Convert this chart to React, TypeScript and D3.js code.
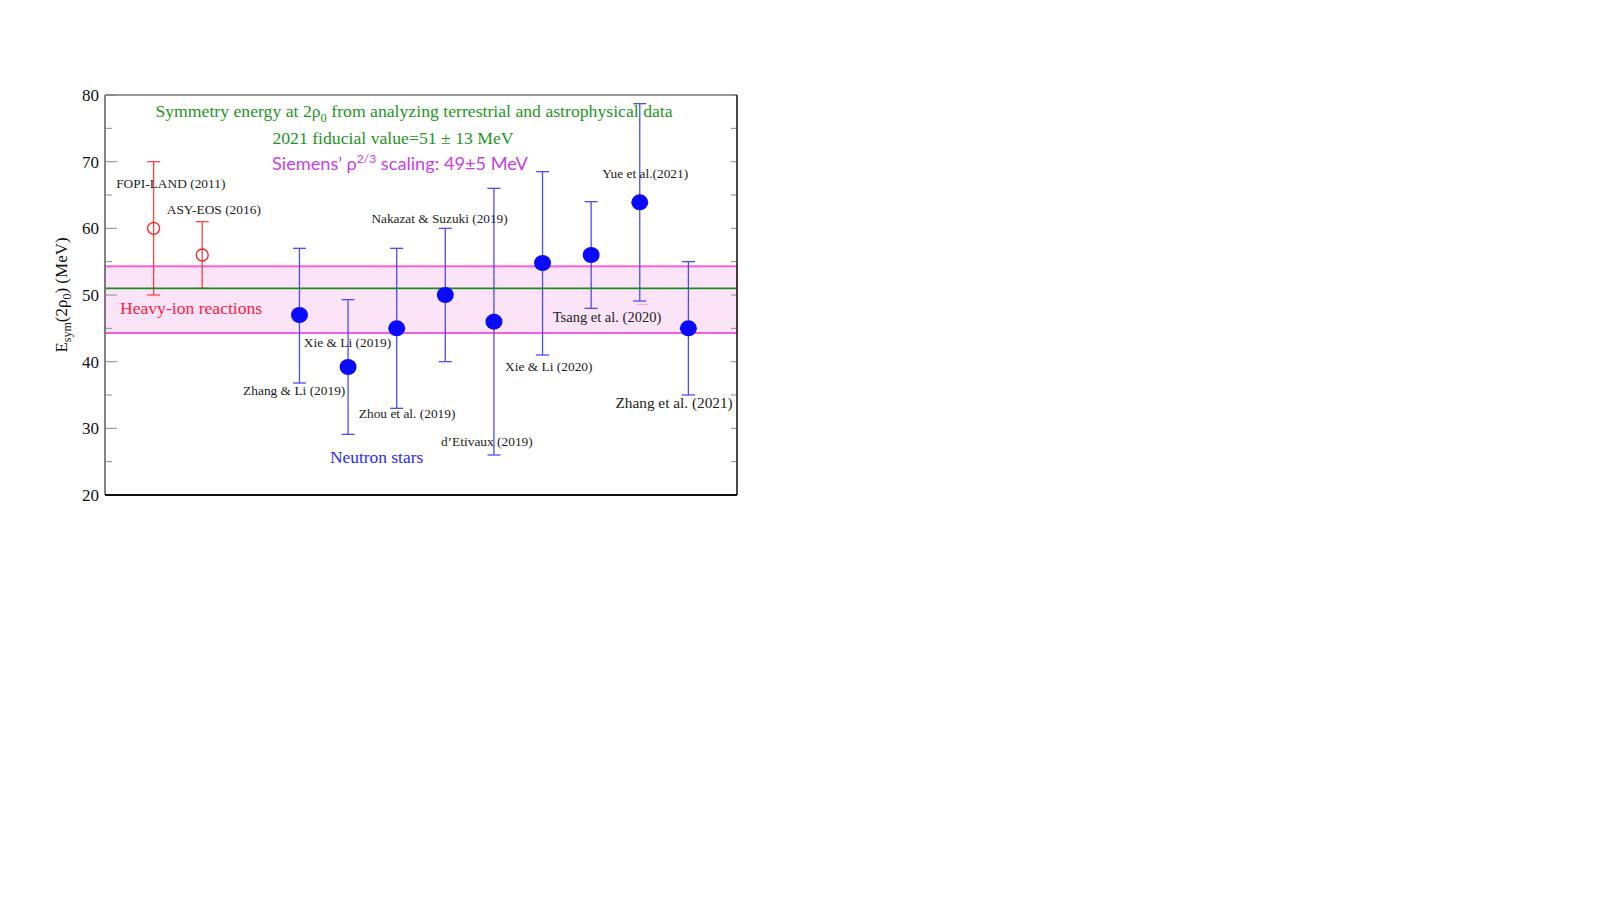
import * as d3 from 'd3';

// data
const names = [
  'FOPI-LAND (2011)',
  'ASY-EOS (2016)',
  'Zhang & Li (2019)',
  'Xie & Li (2019)',
  'Zhou et al. (2019)',
  'Nakazat & Suzuki (2019)',
  "d’Etivaux (2019)",
  'Xie & Li (2020)',
  'Tsang et al. (2020)',
  'Yue et al.(2021)',
  'Zhang et al. (2021)',
];
const slots = [1, 2, 4, 5, 6, 7, 8, 9, 10, 11, 12];
const centers = [60, 56, 47, 39.2, 45, 50, 46, 54.8, 56, 63.9, 45];
const uppers = [70, 61, 57, 49.3, 57, 60, 66, 68.5, 64, 78.7, 55];
const lowers = [50, 51, 36.8, 29.1, 33, 40, 26, 41, 48, 49.1, 35];
const groups = ['hic', 'hic', 'ns', 'ns', 'ns', 'ns', 'ns', 'ns', 'ns', 'ns', 'ns'];

const fiducial = 51;
const bandLow = 44.3;
const bandHigh = 54.3;
const yTicks = [20, 30, 40, 50, 60, 70, 80];
const yMinor = [25, 35, 45, 55, 65, 75];

// label anchors, in data units
const labelX = [0.23, 1.27, 2.84, 4.09, 5.22, 5.48, 6.91, 8.23, 9.21, 10.23, 10.5];
const labelY = [66.0, 62.15, 35.0, 42.15, 31.5, 60.85, 27.4, 38.6, 45.9, 67.5, 33.0];
const labelSize = [13.4, 13.4, 13.4, 13.4, 13.4, 13.3, 13.4, 13.4, 14.5, 13.4, 15.3];

const serif = '"Liberation Serif", "DejaVu Serif", serif';

export default function App() {
  const left = 105;
  const right = 737;
  const top = 95;
  const bottom = 495;

  const x = d3.scaleLinear().domain([0, 13]).range([left, right]);
  const y = d3.scaleLinear().domain([20, 80]).range([bottom, top]);

  return (
    <svg
      width={1600}
      height={900}
      style={{ position: 'absolute', left: 0, top: 0, background: '#fff' }}
    >
      {/* band of Siemens scaling */}
      <rect
        x={left}
        y={y(bandHigh)}
        width={right - left}
        height={y(bandLow) - y(bandHigh)}
        fill='#fce4f8'
        stroke='#f060e0'
        strokeWidth={2}
      />
      <line x1={x(10.93)} x2={x(11.17)} y1={y(48.6)} y2={y(48.6)} stroke='#f0a0e8' strokeWidth={1} />

      {/* ticks */}
      {yTicks.map((t) => (
        <g key={'t' + t}>
          <line x1={left} x2={left + 12} y1={y(t)} y2={y(t)} stroke='#888' />
          <line x1={right - 6} x2={right} y1={y(t)} y2={y(t)} stroke='#888' />
          <text
            x={left - 6}
            y={y(t) + 6}
            textAnchor='end'
            fontFamily={serif}
            fontSize={17}
            fill='#111'
          >
            {t}
          </text>
        </g>
      ))}
      {yMinor.map((t) => (
        <g key={'m' + t}>
          <line x1={left} x2={left + 7} y1={y(t)} y2={y(t)} stroke='#888' />
          <line x1={right - 6} x2={right} y1={y(t)} y2={y(t)} stroke='#888' />
        </g>
      ))}

      {/* error bars */}
      {slots.map((s, i) => {
        const col = groups[i] === 'hic' ? '#ff3030' : '#3a3aff';
        return (
          <g key={'e' + i} stroke={col} strokeWidth={1.3} opacity={0.9}>
            <line x1={x(s)} x2={x(s)} y1={y(uppers[i])} y2={y(lowers[i])} />
            <line x1={x(s) - 6.5} x2={x(s) + 6.5} y1={y(uppers[i])} y2={y(uppers[i])} />
            <line x1={x(s) - 6.5} x2={x(s) + 6.5} y1={y(lowers[i])} y2={y(lowers[i])} />
          </g>
        );
      })}

      {/* fiducial value */}
      <line x1={left} x2={right} y1={y(fiducial)} y2={y(fiducial)} stroke='#1e8a1e' strokeWidth={1.8} />

      {/* points */}
      {slots.map((s, i) =>
        groups[i] === 'hic' ? (
          <circle
            key={'p' + i}
            cx={x(s)}
            cy={y(centers[i])}
            r={6}
            fill='none'
            stroke='#ff2020'
            strokeWidth={1.3}
          />
        ) : (
          <ellipse key={'p' + i} cx={x(s)} cy={y(centers[i])} rx={8.5} ry={8} fill='#0a0aff' />
        )
      )}

      {/* frame */}
      <line x1={left} x2={right} y1={top} y2={top} stroke='#777' strokeWidth={1.5} />
      <line x1={left} x2={left} y1={top} y2={bottom} stroke='#777' strokeWidth={1.8} />
      <line x1={right} x2={right} y1={top} y2={bottom} stroke='#333' strokeWidth={1.8} />
      <line x1={left} x2={right} y1={bottom} y2={bottom} stroke='#111' strokeWidth={1.8} />

      {/* point labels */}
      {names.map((n, i) => (
        <text
          key={'l' + i}
          x={x(labelX[i])}
          y={y(labelY[i])}
          fontFamily={serif}
          fontSize={labelSize[i]}
          fill='#222'
        >
          {n}
        </text>
      ))}

      {/* headings */}
      <text x={414} y={117} textAnchor='middle' fontFamily={serif} fontSize={17.7} fill='#1e961e'>
        Symmetry energy at 2ρ
        <tspan dy={5} fontSize={12.5}>0</tspan>
        <tspan dy={-5}> from analyzing terrestrial and astrophysical data</tspan>
      </text>
      <text x={393} y={143.5} textAnchor='middle' fontFamily={serif} fontSize={17.7} fill='#1e961e'>
        2021 fiducial value=51 ± 13 MeV
      </text>
      <text x={272} y={170} fontFamily='Lato, "Open Sans", sans-serif' fontSize={18.2} fill='#c83ee8'>
        Siemens’ ρ
        <tspan dy={-7} fontSize={12}>2/3</tspan>
        <tspan dy={7}> scaling: 49±5 MeV</tspan>
      </text>
      <text x={120} y={313.5} fontFamily={serif} fontSize={17.6} fill='#ff2040'>
        Heavy-ion reactions
      </text>
      <text x={330} y={463} fontFamily={serif} fontSize={17.4} fill='#2a2aff'>
        Neutron stars
      </text>

      {/* y axis title */}
      <text
        transform={`translate(67, ${(top + bottom) / 2}) rotate(-90)`}
        textAnchor='middle'
        fontFamily={serif}
        fontSize={17}
        fill='#111'
      >
        E
        <tspan dy={4} fontSize={12}>sym</tspan>
        <tspan dy={-4}>(2ρ</tspan>
        <tspan dy={4} fontSize={12}>0</tspan>
        <tspan dy={-4}>) (MeV)</tspan>
      </text>
    </svg>
  );
}
